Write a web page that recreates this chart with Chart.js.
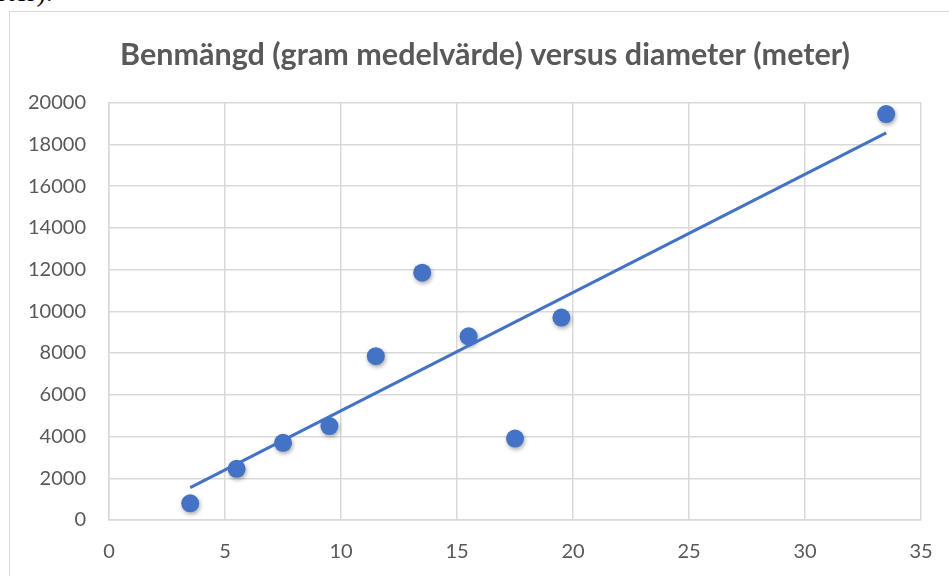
<!DOCTYPE html>
<html>
<head>
<meta charset="utf-8">
<script src="https://cdn.jsdelivr.net/npm/chart.js@4"></script>
<style>
  body { margin: 0; overflow: hidden; background: #fff; width: 949px; height: 576px; position: relative; }
  #above { position: absolute; left: -4px; top: -24px; font: 28px "Liberation Serif", serif; color: #000; }
  #box { position: absolute; left: 9px; top: 11px; width: 1000px; height: 700px; border: 1.5px solid #d9d9d9; }
  #myChart { position: absolute; left: 0; top: 0; }
</style>
</head>
<body>
<div id="above">ster).</div>
<div id="box"></div>
<!-- the original chart is wider than the window, its right edge is cut off -->
<canvas id="myChart" width="970" height="576"></canvas>
<script>
// diameter (meter) and mean bone amount (gram)
var diameter = [3.5, 5.5, 7.5, 9.5, 11.5, 13.5, 15.5, 17.5, 19.5, 33.5];
var benmangd = [800, 2450, 3700, 4500, 7850, 11850, 8800, 3900, 9700, 19450];
// linear trendline end points
var trendX = [3.5, 33.5];
var trendY = [1550, 18550];
var xTicks = [0, 5, 10, 15, 20, 25, 30, 35];
var yTicks = [0, 2000, 4000, 6000, 8000, 10000, 12000, 14000, 16000, 18000, 20000];

var blue = '#4472C4';
var grey = '#595959';

// soft shadow under the markers, like excel
var shadowPlugin = {
  id: 'shadow',
  beforeDatasetDraw: function (chart, args) {
    if (args.index !== 0) return;
    var ctx = chart.ctx;
    ctx.save();
    ctx.shadowColor = 'rgba(0,0,0,0.35)';
    ctx.shadowBlur = 4;
    ctx.shadowOffsetX = 1;
    ctx.shadowOffsetY = 2;
  },
  afterDatasetDraw: function (chart, args) {
    if (args.index !== 0) return;
    chart.ctx.restore();
  }
};

window.onload = function () {
  var points = diameter.map(function (d, i) { return { x: d, y: benmangd[i] }; });
  var trend = trendX.map(function (d, i) { return { x: d, y: trendY[i] }; });

  var ctx = document.getElementById('myChart').getContext('2d');
  new Chart(ctx, {
    type: 'scatter',
    data: {
      datasets: [
        {
          label: 'Benmängd',
          data: points,
          backgroundColor: blue,
          borderColor: blue,
          pointRadius: 9,
          pointBorderWidth: 0,
          order: 2
        },
        {
          label: 'Trend',
          type: 'line',
          data: trend,
          borderColor: blue,
          borderWidth: 3,
          pointRadius: 0,
          fill: false,
          order: 1
        }
      ]
    },
    options: {
      responsive: false,
      animation: false,
      layout: { padding: 0 },
      plugins: {
        legend: { display: false },
        tooltip: { enabled: false },
        title: {
          display: true,
          text: 'Benmängd (gram medelvärde) versus diameter (meter)',
          color: grey,
          font: { family: 'Lato', size: 30.5, weight: 'bold' },
          padding: { top: 37, bottom: 29 }
        }
      },
      scales: {
        x: {
          type: 'linear',
          min: 0,
          max: 35,
          afterBuildTicks: function (s) { s.ticks = xTicks.map(function (v) { return { value: v }; }); },
          afterFit: function (s) { s.height = 56; },
          grid: { color: '#d9d9d9', lineWidth: 1.5, drawTicks: false },
          border: { color: '#d9d9d9', width: 1.5 },
          ticks: {
            color: grey, padding: 20, font: { family: 'Lato', size: 20 },
            callback: function (value) { return String(value); }
          }
        },
        y: {
          min: 0,
          max: 20000,
          afterBuildTicks: function (s) { s.ticks = yTicks.map(function (v) { return { value: v }; }); },
          afterFit: function (s) { s.width = 109; },
          grid: { color: '#d9d9d9', lineWidth: 1.5, drawTicks: false },
          border: { color: '#d9d9d9', width: 1.5 },
          ticks: {
            color: grey, padding: 23, font: { family: 'Lato', size: 20 },
            callback: function (value) { return String(value); }
          }
        },
        // empty right margin of the chart box
        yRight: {
          position: 'right',
          min: 0,
          max: 20000,
          afterFit: function (s) { s.width = 49; },
          grid: { display: false },
          border: { display: false },
          ticks: { display: false }
        }
      }
    },
    plugins: [shadowPlugin]
  });
};
</script>
</body>
</html>
